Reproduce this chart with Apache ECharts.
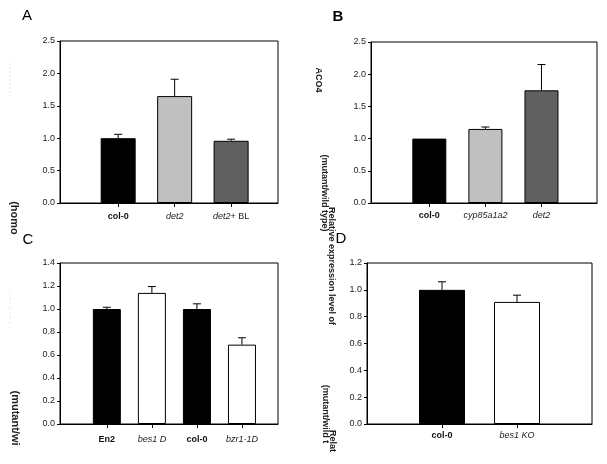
<!DOCTYPE html>
<html>
<head>
<meta charset="utf-8">
<script src="https://cdn.jsdelivr.net/npm/echarts@6/dist/echarts.min.js"></script>
<style>
html,body{margin:0;padding:0;background:#fff;}
#chart{width:607px;height:464px;}
</style>
</head>
<body>
<div id="chart"></div>
<script>
// ---- data ----
const catsA = ['col-0', 'det2', 'det2+ BL'];
const valsA = [1.00, 1.65, 0.96];
const errA  = [0.06, 0.26, 0.025];

const catsB = ['col-0', 'cyp85a1a2', 'det2'];
const valsB = [1.00, 1.15, 1.75];
const errB  = [0, 0.03, 0.40];

const catsC = ['En2', 'bes1 D', 'col-0', 'bzr1-1D'];
const valsC = [1.00, 1.14, 1.00, 0.69];
const errC  = [0.015, 0.055, 0.045, 0.06];

const catsD = ['col-0', 'bes1 KO'];
const valsD = [1.00, 0.91];
const errD  = [0.06, 0.05];

const ticksA = [0, 0.5, 1.0, 1.5, 2.0, 2.5];
const ticksB = [0, 0.5, 1.0, 1.5, 2.0, 2.5];
const ticksC = [0, 0.2, 0.4, 0.6, 0.8, 1.0, 1.2, 1.4];
const ticksD = [0, 0.2, 0.4, 0.6, 0.8, 1.0, 1.2];

// ---- styles ----
const BLACK = '#000000', LIGHT = '#c0c0c0', DARK = '#606060', WHITE = '#ffffff';
const colorsA = [BLACK, LIGHT, DARK];
const colorsB = [BLACK, LIGHT, DARK];
const colorsC = [BLACK, WHITE, BLACK, WHITE];
const colorsD = [BLACK, WHITE];
const boldNames = {'col-0': true, 'En2': true};
const FONT = 'Liberation Sans, Arial, sans-serif';

function labelFmt(name) {
  if (name === 'det2+ BL') return '{i|det2}{n|+ BL}';
  return boldNames[name] ? '{b|' + name + '}' : '{i|' + name + '}';
}
const rich = {
  b: {fontWeight: 'bold', fontSize: 9, color: '#111', fontFamily: FONT},
  i: {fontStyle: 'italic', fontSize: 9, color: '#222', fontFamily: FONT},
  n: {fontSize: 9, color: '#222', fontFamily: FONT}
};

const panels = [
  {cats: catsA, vals: valsA, errs: errA, colors: colorsA, ticks: ticksA, grid: {left: 60, top: 41, width: 218, height: 162}, xMin: -0.03, xMax: 3.83, barWidth: 35, margin: 9},
  {cats: catsB, vals: valsB, errs: errB, colors: colorsB, ticks: ticksB, grid: {left: 371, top: 42, width: 226, height: 161}, xMin: -0.04, xMax: 3.99, barWidth: 34, margin: 8},
  {cats: catsC, vals: valsC, errs: errC, colors: colorsC, ticks: ticksC, grid: {left: 60, top: 263, width: 218, height: 161}, xMin: -0.04, xMax: 4.8, barWidth: 28, margin: 11},
  {cats: catsD, vals: valsD, errs: errD, colors: colorsD, ticks: ticksD, grid: {left: 367, top: 263, width: 225, height: 161}, xMin: 0, xMax: 3, barWidth: 46, margin: 7}
];

const grid = [], xAxis = [], yAxis = [], series = [];
panels.forEach((p, k) => {
  grid.push(Object.assign({show: true, borderColor: '#000', borderWidth: 1, backgroundColor: 'transparent'}, p.grid));
  const pos = p.cats.map((c, i) => i + 1);
  xAxis.push({
    type: 'value', gridIndex: k, min: p.xMin, max: p.xMax,
    splitLine: {show: false},
    axisLine: {show: true, onZero: false, lineStyle: {color: '#000', width: 1}},
    axisTick: {show: true, customValues: pos, length: 4, inside: false, lineStyle: {color: '#000'}},
    axisLabel: {show: true, customValues: pos, margin: p.margin, rich: rich,
      formatter: v => labelFmt(p.cats[Math.round(v) - 1])}
  });
  const tmax = p.ticks[p.ticks.length - 1];
  yAxis.push({
    type: 'value', gridIndex: k, min: 0, max: tmax, interval: p.ticks[1] - p.ticks[0],
    splitLine: {show: false},
    axisLine: {show: true, onZero: false, lineStyle: {color: '#000', width: 1}},
    axisTick: {show: true, length: 3, lineStyle: {color: '#000'}},
    axisLabel: {fontSize: 9, color: '#222', fontFamily: FONT, margin: 5,
      formatter: v => v.toFixed(1)}
  });
  series.push({
    type: 'bar', xAxisIndex: k, yAxisIndex: k, barWidth: p.barWidth,
    data: p.vals.map((v, i) => ({value: [pos[i], v], itemStyle: {color: p.colors[i], borderColor: '#000', borderWidth: 1}})),
    animation: false
  });
  series.push({
    type: 'custom', xAxisIndex: k, yAxisIndex: k, z: 3,
    data: p.vals.map((v, i) => [pos[i], v, v + p.errs[i]]),
    renderItem: function (params, api) {
      const x = api.value(0), m = api.value(1), t = api.value(2);
      if (t - m <= 0) return null;
      const a = api.coord([x, m]), b = api.coord([x, t]);
      return {type: 'group', children: [
        {type: 'line', shape: {x1: a[0], y1: a[1], x2: b[0], y2: b[1]}, style: {stroke: '#000', lineWidth: 1}},
        {type: 'line', shape: {x1: b[0] - 4, y1: b[1], x2: b[0] + 4, y2: b[1]}, style: {stroke: '#000', lineWidth: 1}}
      ]};
    },
    animation: false
  });
});

function vtext(txt, x, y, size, weight, color) {
  return {type: 'text', x: x, y: y, rotation: -Math.PI / 2,
    style: {text: txt, fontSize: size, fontWeight: weight, fill: color || '#222', fontFamily: FONT, align: 'center', verticalAlign: 'middle'}};
}
function letter(txt, x, y, weight) {
  return {type: 'text', x: x, y: y, style: {text: txt, fontSize: 15, fontWeight: weight, fill: '#000', fontFamily: FONT, align: 'center', verticalAlign: 'middle'}};
}

const graphic = [
  letter('A', 27, 16, 'normal'),
  letter('B', 338, 17, 'bold'),
  letter('C', 28, 240, 'normal'),
  letter('D', 341, 239, 'normal'),
  vtext('ACO4', 318, 80, 9, 'bold'),
  vtext('(mutant/wild type)', 324, 193, 9, 'bold'),
  vtext('Relative expression level of', 331, 266, 9, 'bold'),
  vtext('(mutant/wild t', 325, 414, 9, 'bold'),
  vtext('Relat', 332, 441, 9, 'bold'),
  vtext('(homo', 14, 218, 11, 'bold'),
  vtext('(mutant/wi', 15, 418, 11, 'bold'),
  {type: 'line', shape: {x1: 10, y1: 63, x2: 10, y2: 94}, style: {stroke: '#dde4ea', lineWidth: 1, lineDash: [2, 2]}},
  {type: 'line', shape: {x1: 10, y1: 292, x2: 10, y2: 332}, style: {stroke: '#e4e8ec', lineWidth: 1, lineDash: [2, 3]}}
];

const chart = echarts.init(document.getElementById('chart'), null, {renderer: 'canvas'});
chart.setOption({
  backgroundColor: '#fff',
  animation: false,
  grid: grid, xAxis: xAxis, yAxis: yAxis, series: series, graphic: graphic
});
</script>
</body>
</html>
